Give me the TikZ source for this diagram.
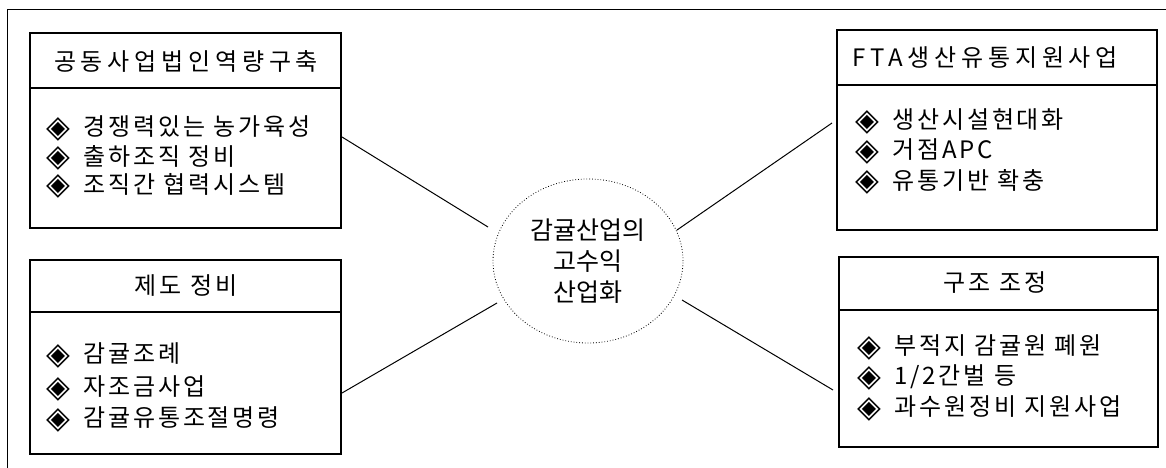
\documentclass[tikz,border=0pt]{standalone}
\usepackage{fontspec}
\usetikzlibrary{shapes.geometric}
\newfontfamily\krsans[LetterSpace=20]{Noto Sans CJK KR}
\newfontfamily\kritem[LetterSpace=12]{Noto Sans CJK KR}
\newfontfamily\krmid{Noto Sans CJK KR}
\newfontfamily\symfont{DejaVu Sans}
\newcommand\dia{\makebox[37pt][l]{\smash{\raisebox{-1.5pt}{\symfont\fontsize{31}{27}\selectfont ◈}}}}
\tikzset{
  box/.style={draw, line width=1.3pt},
  sep/.style={line width=1.1pt},
  hsans/.style={inner sep=0pt, font=\krsans\fontsize{24}{26}\selectfont},
  hserif/.style={inner sep=0pt, font=\kritem\fontsize{24}{27}\selectfont},
  item/.style={anchor=west, inner sep=0pt, font=\kritem\fontsize{24}{27}\selectfont},
  link/.style={line width=1pt},
  hub/.style={draw, dotted, line width=0.8pt, ellipse, minimum width=190pt, minimum height=164pt, inner sep=0pt, align=center, font=\krmid\fontsize{25}{31}\selectfont}
}
\begin{document}
\begin{tikzpicture}[x=1pt,y=-1pt]
\useasboundingbox (0,0) rectangle (1166,468);
% outer frame (top and left)
\draw[line width=1pt] (7,468) -- (7,10) -- (1166,10);

% box 1
\draw[box] (30,33) rectangle (341,228);
\draw[sep] (30,88) -- (341,88);
\node[hsans] (h1) at (186,61) {공동사업법인역량구축};
\node[item] (a1) at (46,127) {\dia 경쟁력있는 농가육성};
\node[item] (a2) at (46,156) {\dia 출하조직 정비};
\node[item] (a3) at (46,184) {\dia 조직간 협력시스템};

% box 2
\draw[box] (30,260) rectangle (341,454);
\draw[sep] (30,312) -- (341,312);
\node[hserif] (h2) at (186,286) {제도 정비};
\node[item] (b1) at (46,354) {\dia 감귤조례};
\node[item] (b2) at (46,387) {\dia 자조금사업};
\node[item] (b3) at (46,418) {\dia 감귤유통조절명령};

% box 3
\draw[box] (837,30) rectangle (1157,230);
\draw[sep] (837,85) -- (1157,85);
\node[hsans] (h3) at (985,58) {FTA생산유통지원사업};
\node[item] (c1) at (855,120) {\dia 생산시설현대화};
\node[item] (c2) at (855,150) {\dia 거점APC};
\node[item] (c3) at (855,180) {\dia 유통기반 확충};

% box 4
\draw[box] (839,257) rectangle (1158,447);
\draw[sep] (839,310) -- (1158,310);
\node[hserif] (h4) at (995,283) {구조 조정};
\node[item] (d1) at (857,346) {\dia 부적지 감귤원 폐원};
\node[item] (d2) at (857,377) {\dia 1/2간벌 등};
\node[item] (d3) at (857,407) {\dia 과수원정비 지원사업};

% hub
\node[hub] (hub) at (588,261) {감귤산업의\\고수익\\산업화};

% connectors
\coordinate (p1) at (342,137);
\coordinate (q1) at (488,227);
\coordinate (p2) at (342,393);
\coordinate (q2) at (497,303);
\coordinate (p3) at (832,123);
\coordinate (q3) at (677,230);
\coordinate (p4) at (833,390);
\coordinate (q4) at (682,300);
\draw[link] (p1) -- (q1);
\draw[link] (p2) -- (q2);
\draw[link] (p3) -- (q3);
\draw[link] (p4) -- (q4);
\end{tikzpicture}
\end{document}
